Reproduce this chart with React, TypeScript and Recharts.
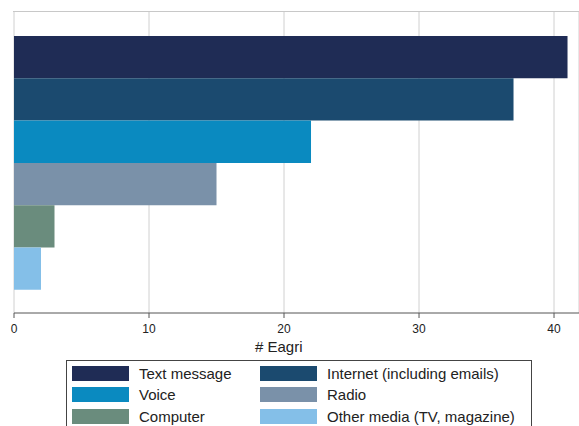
import { BarChart, Bar, XAxis, YAxis, CartesianGrid } from "recharts";

const SERIES_NAMES = [
  "Text message",
  "Internet (including emails)",
  "Voice",
  "Radio",
  "Computer",
  "Other media (TV, magazine)",
];
const SERIES_KEYS = ["text", "internet", "voice", "radio", "computer", "other"];
const SERIES_VALUES = [41, 37, 22, 15, 3, 2];
const SERIES_COLORS = ["#1f2c55", "#1b4a6f", "#0a8ac0", "#7a91a9", "#6a8c7d", "#84bfe8"];
const X_TICKS = [0, 10, 20, 30, 40];
const CATEGORY = "Eagri";

const row: Record<string, string | number> = { name: CATEGORY };
SERIES_KEYS.forEach((k, i) => {
  row[k] = SERIES_VALUES[i];
});
const data = [row];

const FONT = "'Liberation Sans', Arial, sans-serif";

export default function App() {
  return (
    <div style={{ position: "absolute", left: 0, top: 0, width: 579, height: 426, background: "#fff", overflow: "hidden", fontFamily: FONT }}>
      <BarChart
        width={579}
        height={426}
        data={data}
        layout="vertical"
        margin={{ top: 12, right: 0, left: 14, bottom: 83 }}
        barSize={42.3}
        barGap={0}
      >
        <CartesianGrid horizontal={false} stroke="#d0d0d0" />
        <XAxis
          type="number"
          domain={[0, 41.85]}
          ticks={X_TICKS}
          height={30}
          allowDataOverflow
          axisLine={{ stroke: "#555" }}
          tickLine={{ stroke: "#555" }}
          tickSize={5}
          tickMargin={6}
          tick={{ fill: "#222", fontSize: 12, fontFamily: FONT }}
        />
        <YAxis
          type="category"
          dataKey="name"
          width={0}
          tick={false}
          tickLine={false}
          axisLine={{ stroke: "#555" }}
        />
        {SERIES_KEYS.map((k, i) => (
          <Bar key={k} dataKey={k} name={SERIES_NAMES[i]} fill={SERIES_COLORS[i]} isAnimationActive={false} />
        ))}
      </BarChart>
      {/* plot region top border */}
      <div style={{ position: "absolute", left: 13, top: 11, width: 566, height: 1, background: "#c8c8c8" }} />
      <div style={{ position: "absolute", left: 255, top: 338, fontSize: 15, color: "#222", lineHeight: "18px" }}>
        # {CATEGORY}
      </div>
      <div
        style={{
          position: "absolute",
          left: 66,
          top: 360,
          width: 466,
          height: 80,
          border: "1px solid #444",
          boxSizing: "border-box",
        }}
      >
        {[0, 1, 2].map((r) => (
          <div key={r} style={{ position: "absolute", top: 5 + r * 21.4, left: 0, width: "100%", height: 15 }}>
            {[0, 1].map((c) => {
              const i = r * 2 + c;
              return (
                <div key={c} style={{ position: "absolute", left: 5 + c * 188, top: 0, display: "flex", alignItems: "center", height: 15 }}>
                  <div style={{ width: 57, height: 15, background: SERIES_COLORS[i] }} />
                  <span style={{ marginLeft: 10, fontSize: 15, color: "#222", whiteSpace: "nowrap" }}>{SERIES_NAMES[i]}</span>
                </div>
              );
            })}
          </div>
        ))}
      </div>
    </div>
  );
}
